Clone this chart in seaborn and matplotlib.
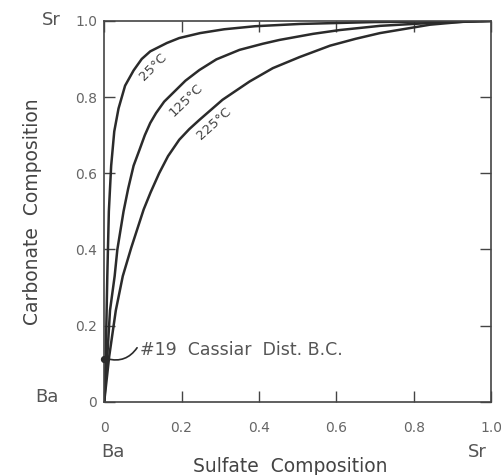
# -*- coding: utf-8 -*-
import seaborn as sns
import matplotlib.pyplot as plt

# values
x_25 = [0, 0.004, 0.008, 0.012, 0.018, 0.026, 0.037, 0.054, 0.076, 0.097, 0.119, 0.162, 0.194,
        0.248, 0.31, 0.39, 0.506, 0.70, 1.0]
y_25 = [0, 0.12, 0.33, 0.50, 0.62, 0.71, 0.77, 0.83, 0.87, 0.90, 0.92, 0.942, 0.955,
        0.968, 0.978, 0.986, 0.992, 0.997, 1.0]

x_125 = [0, 0.008, 0.015, 0.027, 0.034, 0.05, 0.062, 0.076, 0.091, 0.105, 0.119, 0.134, 0.155,
         0.177, 0.21, 0.246, 0.29, 0.35, 0.41, 0.453, 0.54, 0.609, 0.713, 0.85, 1.0]
y_125 = [0, 0.12, 0.24, 0.33, 0.40, 0.50, 0.56, 0.62, 0.661, 0.70, 0.732, 0.758, 0.788,
         0.81, 0.843, 0.871, 0.899, 0.924, 0.94, 0.95, 0.966, 0.976, 0.987, 0.995, 1.0]

x_225 = [0, 0.013, 0.03, 0.048, 0.07, 0.102, 0.12, 0.142, 0.165, 0.194, 0.22, 0.246, 0.306,
         0.376, 0.436, 0.505, 0.584, 0.65, 0.713, 0.842, 0.93, 1.0]
y_225 = [0, 0.12, 0.24, 0.33, 0.405, 0.505, 0.55, 0.60, 0.645, 0.688, 0.716, 0.740, 0.793,
         0.841, 0.876, 0.905, 0.935, 0.953, 0.968, 0.99, 0.998, 1.0]

ticks = [0, 0.2, 0.4, 0.6, 0.8, 1.0]
tick_labels = ["0", "0.2", "0.4", "0.6", "0.8", "1.0"]

sample_x = [0.0]
sample_y = [0.113]

sns.set_style("ticks")
plt.rcParams['font.family'] = ['DejaVu Sans']

fig = plt.figure(figsize=(5.01, 4.75), dpi=100)
ax = fig.add_axes([0.208, 0.154, 0.772, 0.802])

line_col = "#2b2b2b"
for xs, ys in [(x_25, y_25), (x_125, y_125), (x_225, y_225)]:
    sns.lineplot(x=xs, y=ys, ax=ax, color=line_col, linewidth=1.8, sort=False, estimator=None)

ax.set_xlim(0, 1)
ax.set_ylim(0, 1)
ax.set_xticks(ticks)
ax.set_yticks(ticks)
ax.set_xticklabels(tick_labels, fontsize=10, color="#666666")
ax.set_yticklabels(tick_labels, fontsize=10, color="#666666")
ax.tick_params(direction="in", length=8, width=1, color="#444444", top=True, right=True)
ax.tick_params(axis="x", pad=14)
ax.tick_params(axis="y", pad=5)
for sp in ax.spines.values():
    sp.set_linewidth(1.2)
    sp.set_color("#444444")

# curve labels
txt = dict(fontsize=9.5, color="#444444", ha="center", va="center")
ax.text(0.127, 0.88, "25°C", rotation=45, **txt)
ax.text(0.212, 0.793, "125°C", rotation=44, **txt)
ax.text(0.283, 0.731, "225°C", rotation=42, **txt)

# sample point
ax.scatter(sample_x, sample_y, s=18, color=line_col, zorder=5, clip_on=False)
ax.annotate("", xy=(0.008, 0.113), xytext=(0.085, 0.142),
            arrowprops=dict(arrowstyle="-", color=line_col, lw=1.2,
                            connectionstyle="arc3,rad=-0.35", shrinkA=0, shrinkB=0))
ax.text(0.092, 0.137, "#19  Cassiar  Dist. B.C.", fontsize=12.5, color="#555555",
        ha="left", va="center")

# end-member labels
lab = dict(fontsize=13, color="#555555", ha="center", va="center")
fig.text(113 / 501, 1 - 452 / 475, "Ba", **lab)
fig.text(477 / 501, 1 - 452 / 475, "Sr", **lab)
fig.text(51 / 501, 1 - 20 / 475, "Sr", **lab)
fig.text(47 / 501, 1 - 397 / 475, "Ba", **lab)

fig.text(290 / 501, 1 - 467 / 475, "Sulfate  Composition", fontsize=13.5, color="#444444",
         ha="center", va="center")
ax.set_ylabel("Carbonate  Composition", fontsize=13.5, color="#444444", labelpad=24)

fig.savefig("out.png", dpi=100)
